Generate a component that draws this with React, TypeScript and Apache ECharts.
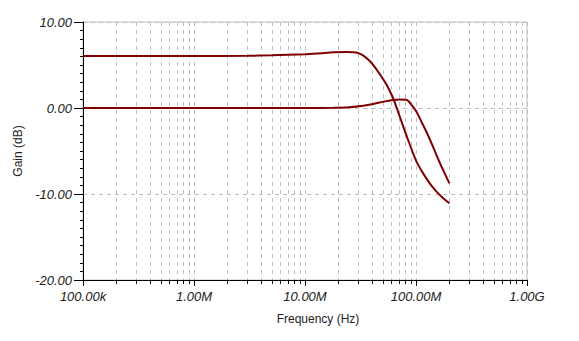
import React, { useEffect, useRef } from "react";
import * as echarts from "echarts";

const freqA = [1e5, 1e6, 3e6, 5e6, 1e7, 1.4e7, 1.8e7, 2.4e7, 2.9e7, 3.3e7, 3.6e7, 4.0e7, 4.4e7, 4.9e7, 5.45e7, 6.04e7, 6.46e7, 6.9e7, 7.68e7, 8.82e7, 1.01e8, 1.16e8, 1.33e8, 1.53e8, 1.76e8, 2e8];
const gainA = [6.05, 6.05, 6.07, 6.12, 6.25, 6.38, 6.48, 6.52, 6.45, 6.15, 5.78, 5.2, 4.5, 3.64, 2.67, 1.51, 0.6, -0.45, -2.17, -4.3, -6.24, -7.6, -8.76, -9.73, -10.5, -11.08];

const freqB = [1e5, 1e7, 1.8e7, 2.5e7, 3.35e7, 4.12e7, 5.07e7, 6.2e7, 7.16e7, 8.28e7, 8.7e7, 9.13e7, 1.01e8, 1.12e8, 1.24e8, 1.38e8, 1.53e8, 1.7e8, 2e8];
const gainB = [0, 0, 0.03, 0.1, 0.27, 0.47, 0.73, 0.93, 0.98, 0.93, 0.7, 0.35, -0.43, -1.6, -2.76, -4.1, -5.47, -6.83, -8.76];

const decades = [1e5, 1e6, 1e7, 1e8];
const minorMultipliers = [2, 3, 4, 5, 6, 7, 8, 9];

const xLabels: Record<string, string> = {
  "100000": "100.00k",
  "1000000": "1.00M",
  "10000000": "10.00M",
  "100000000": "100.00M",
  "1000000000": "1.00G",
};

const Y_MIN = -20;
const Y_MAX = 10;

export default function App() {
  const ref = useRef<HTMLDivElement>(null);
  useEffect(() => {
    if (!ref.current) return;
    const chart = echarts.init(ref.current, undefined, { renderer: "svg" });
    const minorData: number[][] = [];
    decades.forEach((d) => minorMultipliers.forEach((m) => minorData.push([d * m, 0])));
    const font = "'Liberation Sans', Arial, sans-serif";
    chart.setOption({
      animation: false,
      grid: {
        left: 83,
        top: 22,
        width: 444,
        height: 258,
        show: true,
        borderColor: "#c0c0c0",
        borderWidth: 1,
      },
      xAxis: {
        type: "log",
        logBase: 10,
        min: 1e5,
        max: 1e9,
        name: "Frequency (Hz)",
        nameLocation: "middle",
        nameGap: 33,
        nameTextStyle: { fontFamily: font, fontSize: 12, color: "#222", padding: [0, 0, 0, 26] },
        axisLine: { onZero: false, lineStyle: { color: "#000", width: 1 } },
        axisTick: { show: true, length: 6, lineStyle: { color: "#000" } },
        axisLabel: {
          fontFamily: font,
          fontSize: 13,
          fontStyle: "italic",
          color: "#222",
          margin: 10,
          formatter: (v: number) => xLabels[String(Math.round(v))] ?? "",
        },
        splitLine: { show: true, lineStyle: { color: "#c0c0c0", type: [4, 4] } },
      },
      yAxis: {
        type: "value",
        min: Y_MIN,
        max: Y_MAX,
        interval: 10,
        name: "Gain (dB)",
        nameLocation: "middle",
        nameGap: 52,
        nameTextStyle: { fontFamily: font, fontSize: 12, color: "#222", padding: [0, 0, 6, 0] },
        axisLine: { show: true, onZero: false, lineStyle: { color: "#000", width: 1 } },
        axisTick: { show: true, length: 9, lineStyle: { color: "#000" } },
        minorTick: { show: true, splitNumber: 10, length: 3, lineStyle: { color: "#000" } },
        axisLabel: {
          fontFamily: font,
          fontSize: 13,
          fontStyle: "italic",
          color: "#222",
          margin: 11,
          formatter: (v: number) => v.toFixed(2),
        },
        splitLine: { show: true, lineStyle: { color: "#c0c0c0", type: [4, 4] } },
      },
      series: [
        {
          type: "custom",
          clip: false,
          silent: true,
          data: minorData,
          encode: { x: 0, y: 1 },
          renderItem: (params: any, api: any) => {
            const f = api.value(0);
            const top = api.coord([f, Y_MAX]);
            const bot = api.coord([f, Y_MIN]);
            const x = Math.round(top[0]) + 0.5;
            return {
              type: "group",
              children: [
                {
                  type: "line",
                  shape: { x1: x, y1: top[1], x2: x, y2: bot[1] },
                  style: { stroke: "#c0c0c0", lineWidth: 1, lineDash: [4, 4] },
                },
                {
                  type: "line",
                  shape: { x1: x, y1: bot[1], x2: x, y2: bot[1] + 4 },
                  style: { stroke: "#000", lineWidth: 1 },
                },
              ],
            };
          },
        },
        {
          type: "line",
          data: freqA.map((f, i) => [f, gainA[i]]),
          showSymbol: false,
          smooth: 0.2,
          lineStyle: { color: "#800000", width: 2 },
          itemStyle: { color: "#800000" },
        },
        {
          type: "line",
          data: freqB.map((f, i) => [f, gainB[i]]),
          showSymbol: false,
          smooth: 0.2,
          lineStyle: { color: "#800000", width: 2 },
          itemStyle: { color: "#800000" },
        },
      ],
    });
    return () => chart.dispose();
  }, []);
  return (
    <div
      ref={ref}
      style={{ position: "fixed", left: 0, top: 0, width: 579, height: 341, background: "#fff" }}
    />
  );
}
